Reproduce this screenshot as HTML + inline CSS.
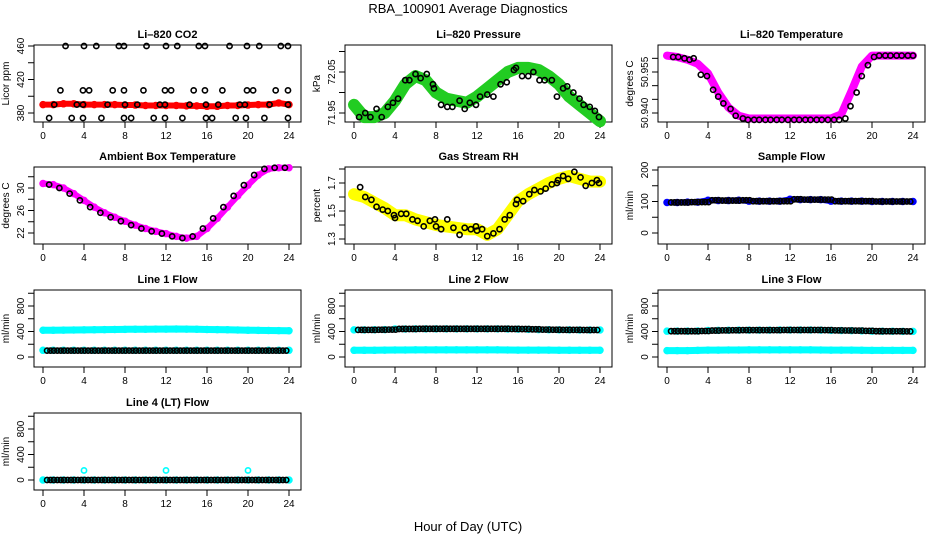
<!DOCTYPE html>
<html><head><meta charset="utf-8"><style>
body{margin:0;background:#fff}
svg text{font-family:"Liberation Sans",sans-serif}
</style></head><body>
<svg id="c" width="936" height="540" xmlns="http://www.w3.org/2000/svg">
<text x="468" y="13" text-anchor="middle" font-size="13">RBA_100901  Average Diagnostics</text>
<text x="468" y="531" text-anchor="middle" font-size="13">Hour of Day (UTC)</text>
</svg>
<script>
const hours=[0,1,2,3,4,5,6,7,8,9,10,11,12,13,14,15,16,17,18,19,20,21,22,23,24];
const xTicks=[0,4,8,12,16,20,24];
// CO2
const co2Red=[390,390,391,391,390,390,390,390,389.5,389.5,389,389,389,389,388.5,388.5,388,388,389,389,389.5,390,390,392,390];
const co2BlackH=[2.2,4,5.2,7.4,7.9,10.1,12,13.1,15.2,15.8,18.2,19.9,21.1,23.2,23.9,1.7,3.9,4.5,6.8,7.9,9.8,11.9,12.5,14.7,15.8,17.5,19.9,20.5,22.7,23.9,1.1,3.3,3.9,6.3,8,9.2,11.4,11.9,14.3,15.9,17.1,19.2,19.7,22.1,23.9,0.6,2.8,3.9,5.7,7.9,8.6,10.8,11.9,13.6,15.9,16.5,18.8,19.8,21.6,23.9];
const co2BlackV=[460,460,460,460,460,460,460,460,460,460,460,460,460,460,460,407,407,407,407,407,407,407,407,407,407,407,407,407,407,407,390,390,390,390,390,390,390,390,390,390,390,390,390,390,390,374,374,374,374,374,374,374,374,374,374,374,374,374,374,374];
// Pressure
const presGreen=[71.97,71.94,71.94,71.95,71.98,72.02,72.04,72.03,72.0,71.985,71.98,71.975,71.99,72.01,72.03,72.05,72.06,72.06,72.055,72.04,72.02,71.99,71.97,71.95,71.93];
const presBlackH=[0.5,1.1,1.6,2.2,2.7,3.3,3.8,4.3,5,5.4,6,6.5,7.1,7.7,7.8,8.5,9.1,9.6,10.3,10.8,11.3,11.9,12.3,13,13.6,14.3,14.9,15.6,15.8,16.4,17,17.5,18.1,18.6,19.3,19.8,20.4,20.8,21.4,22,22.4,23,23.5,23.9];
const presBlackV=[71.94,71.95,71.94,71.96,71.94,71.965,71.975,71.985,72.03,72.03,72.045,72.035,72.045,72.02,72.01,71.97,71.965,71.965,71.98,71.96,71.975,71.97,71.99,71.995,71.99,72.02,72.025,72.055,72.06,72.04,72.04,72.05,72.03,72.03,72.03,71.99,72.01,72.015,72.0,71.985,71.97,71.965,71.955,71.94];
// Li-820 temperature
const tempMag=[50.961,50.9605,50.9595,50.958,50.9545,50.9475,50.942,50.939,50.938,50.938,50.938,50.938,50.938,50.938,50.938,50.938,50.938,50.9395,50.948,50.957,50.961,50.961,50.961,50.961,50.961];
const tempBlackH=[0.6,1.1,1.7,2.2,2.6,3.3,3.9,4.5,5,5.5,6.2,6.7,7.4,7.9,8.5,9,9.6,10.1,10.7,11.2,11.8,12.4,12.9,13.5,14,14.6,15.1,15.7,16.3,16.8,17.4,17.9,18.5,19,19.6,20.2,20.7,21.3,21.8,22.4,22.9,23.5,24];
const tempBlackV=[50.9605,50.9605,50.96,50.9595,50.96,50.954,50.9535,50.9485,50.946,50.9435,50.9415,50.939,50.938,50.9375,50.9375,50.9375,50.9375,50.9375,50.9375,50.9375,50.9375,50.9375,50.9375,50.9375,50.9375,50.9375,50.9375,50.9375,50.9375,50.9375,50.938,50.9425,50.9475,50.9535,50.9575,50.9605,50.961,50.961,50.961,50.961,50.961,50.961,50.961];
// Ambient
const ambMag=[30.8,30.6,30.0,29.0,27.8,26.6,25.6,24.8,24.1,23.4,22.8,22.3,21.9,21.4,21.1,21.4,22.8,24.6,26.6,28.6,30.5,32.3,33.4,33.6,33.6];
// RH
const rhYellow=[1.62,1.60,1.56,1.52,1.47,1.47,1.44,1.42,1.40,1.39,1.38,1.37,1.37,1.33,1.37,1.47,1.57,1.62,1.66,1.70,1.73,1.75,1.73,1.71,1.71];
const rhBlackH=[0.6,1.1,1.7,2.2,2.8,3.3,3.9,4,4.6,5.1,5.7,6.2,6.8,7.4,7.9,8,8.5,9.1,9.7,10.3,10.8,11.4,11.9,12,12.5,13,13.6,14.2,14.7,15.2,15.8,15.9,16.5,17.1,17.6,18.2,18.7,19.3,19.8,19.9,20.4,20.9,21.5,22.1,22.6,23.2,23.7,23.9];
const rhBlackV=[1.67,1.6,1.58,1.53,1.51,1.5,1.47,1.45,1.48,1.48,1.44,1.43,1.39,1.43,1.44,1.39,1.37,1.44,1.38,1.33,1.38,1.37,1.39,1.36,1.37,1.32,1.34,1.37,1.44,1.47,1.55,1.58,1.57,1.62,1.65,1.64,1.66,1.69,1.7,1.72,1.75,1.73,1.78,1.74,1.68,1.7,1.72,1.7];
// Sample flow
const sampBlue=[97,97,98,98,104,103,103,104,101,101,101,101,107,106,106,106,101,101,101,101,100,100,100,100,100];
// Line flows
const l1Cyan=[420,420,422,424,426,428,430,432,434,436,436,438,438,440,438,436,432,430,428,424,420,418,416,414,412];
const l1Black=[100,100,100,100,100,100,100,100,100,100,100,100,100,100,100,100,100,100,100,100,100,100,100,100,100];
const l2Cyan=[105,105,105,108,110,110,112,112,112,112,112,112,112,112,112,110,108,108,108,108,106,106,106,106,106];
const l2Black=[425,425,428,430,440,440,442,442,442,442,442,442,442,442,442,440,438,434,430,428,425,425,424,424,424];
const l3Cyan=[100,100,100,104,108,108,110,110,112,112,112,112,112,112,112,110,108,108,108,106,104,104,104,104,104];
const l3Black=[405,405,405,408,415,418,420,422,422,422,422,424,424,424,424,422,418,416,414,410,405,404,404,402,402];
const l4Cyan=[0,0,0,0,0,0,0,0,0,0,0,0,0,0,0,0,0,0,0,0,0,0,0,0,0];
const l4Black=[0,0,0,0,0,0,0,0,0,0,0,0,0,0,0,0,0,0,0,0,0,0,0,0,0];
const l4OutH=[4,12,20];
const l4OutV=[150,150,150];

const NS="http://www.w3.org/2000/svg";
const svg=document.getElementById('c');
const colLeft=[34,345,658], rowTop=[45,167,290,413], W=267, H=77;
function el(tag,attrs,parent){const e=document.createElementNS(NS,tag);for(const k in attrs)e.setAttribute(k,attrs[k]);(parent||svg).appendChild(e);return e;}

function panel(name,col,row,title,ylab,v1,p1,v2,p2,ticks,labels,fmt){
  const L=colLeft[col],T=rowTop[row];
  const g=el('g',{});
  
  
  const xs=h=>L+9+h*(246/24);
  const ys=v=>T+p1+(v-v1)*(p2-p1)/(v2-v1);
  const t=el('text',{x:L+W/2,y:T-7,'text-anchor':'middle','font-size':11,'font-weight':'bold'},g);
  t.textContent=title;
  
  
  const box=el('rect',{x:L,y:T,width:W,height:H,fill:'none',stroke:'#000','stroke-width':1},g);
  
  
  const xa=el('g',{},g);
  
  
  xTicks.forEach(h=>{el('line',{x1:xs(h),x2:xs(h),y1:T+H,y2:T+H+6,stroke:'#000'},xa);
    const tx=el('text',{x:xs(h),y:T+H+17,'text-anchor':'middle','font-size':10},xa);tx.textContent=h;});
  const ya=el('g',{},g);
  
  
  ticks.forEach(v=>{const y=ys(v);if(y<T-4)return;el('line',{x1:L,x2:L-6,y1:y,y2:y,stroke:'#000'},ya);});
  labels.forEach(v=>{const y=ys(v);const tx=el('text',{x:0,y:0,'text-anchor':'middle','font-size':10,transform:`translate(${L-10},${y}) rotate(-90)`},ya);tx.textContent=fmt(v);});
  const yt=el('text',{x:0,y:0,'text-anchor':'middle','font-size':10,transform:`translate(${L-25},${T+H/2}) rotate(-90)`},g);
  yt.textContent=ylab;
  
  
  return {g,xs,ys};
}
function band(P,name,vals,color,width){
  const pts=hours.map((h,i)=>P.xs(h)+','+P.ys(vals[i])).join(' ');
  const pl=el('polyline',{points:pts,fill:'none',stroke:color,'stroke-width':width,'stroke-linejoin':'round','stroke-linecap':'round'},P.g);
  
  
  hours.forEach((h,i)=>{const c=el('circle',{cx:P.xs(h),cy:P.ys(vals[i]),r:3,fill:'none',stroke:color,'stroke-width':1.5},P.g);
    
    });
}
function dots(P,name,hs,vs,color){
  hs.forEach((h,i)=>{const c=el('circle',{cx:P.xs(h),cy:P.ys(vs[i]),r:2.6,fill:'none',stroke:color,'stroke-width':1.6},P.g);
    
    });
}
function stepDots(P,name,vals,color){
  hours.forEach((h,i)=>{if(h>=24)return;[0.4,0.73,1.06].forEach(d=>{const hh=h+d;if(hh>24)return;
    const c=el('circle',{cx:P.xs(hh),cy:P.ys(vals[i]),r:2.6,fill:'none',stroke:color,'stroke-width':1.6},P.g);
    
    });});
}
const f0=v=>String(v), f2=v=>v.toFixed(2), f1=v=>v.toFixed(1), f3=v=>v.toFixed(3);

let P=panel('co2',0,0,'Li–820 CO2','Licor ppm',380,68,460,1,[380,400,420,440,460],[380,420,460],f0);
band(P,'co2-red-series',co2Red,'#ff0000',6);
dots(P,'co2-black-point',co2BlackH,co2BlackV,'#000');

P=panel('pressure',1,0,'Li–820 Pressure','kPa',71.95,68,72.05,27,[71.95,72.0,72.05,72.1],[71.95,72.05],f2);
band(P,'pressure-green-series',presGreen,'#22cc22',12);
dots(P,'pressure-black-point',presBlackH,presBlackV,'#000');

P=panel('li820-temp',2,0,'Li–820 Temperature','degrees C',50.94,68,50.955,27,[50.94,50.945,50.95,50.955,50.96],[50.94,50.955],f3);
band(P,'temp-magenta-series',tempMag,'#ff00ff',8);
dots(P,'temp-black-point',tempBlackH,tempBlackV,'#000');

P=panel('ambient',0,1,'Ambient Box Temperature','degrees C',22,66,30,21,[22,24,26,28,30,32],[22,26,30],f0);
band(P,'ambient-magenta-series',ambMag,'#ff00ff',6);
dots(P,'ambient-black-point',hours.slice(1).map(h=>h-0.4),ambMag.slice(1),'#000');

P=panel('rh',1,1,'Gas Stream RH','percent',1.3,72,1.7,16,[1.3,1.4,1.5,1.6,1.7,1.8],[1.3,1.5,1.7],f1);
band(P,'rh-yellow-series',rhYellow,'#ffff00',12);
dots(P,'rh-black-point',rhBlackH,rhBlackV,'#000');

P=panel('sample-flow',2,1,'Sample Flow','ml/min',0,66,200,3,[0,50,100,150,200],[0,100,200],f0);
band(P,'sample-blue-series',sampBlue,'#0000ff',6);
stepDots(P,'sample-black-point',sampBlue,'#000');

const flowT=[0,200,400,600,800,1000],flowL=[0,400,800];
P=panel('line1',0,2,'Line 1 Flow','ml/min',0,67,800,16,flowT,flowL,f0);
band(P,'line1-cyan-series',l1Cyan,'#00ffff',7);
band(P,'line1-cyan-low',l1Black.map(v=>v+5),'#00ffff',5);
stepDots(P,'line1-black-point',l1Black,'#000');

P=panel('line2',1,2,'Line 2 Flow','ml/min',0,67,800,16,flowT,flowL,f0);
band(P,'line2-cyan-series',l2Cyan,'#00ffff',7);
band(P,'line2-cyan-high',l2Black,'#00ffff',5);
stepDots(P,'line2-black-point',l2Black,'#000');

P=panel('line3',2,2,'Line 3 Flow','ml/min',0,67,800,16,flowT,flowL,f0);
band(P,'line3-cyan-series',l3Cyan,'#00ffff',7);
band(P,'line3-cyan-high',l3Black,'#00ffff',5);
stepDots(P,'line3-black-point',l3Black,'#000');

P=panel('line4',0,3,'Line 4 (LT) Flow','ml/min',0,67,800,16,flowT,flowL,f0);
band(P,'line4-cyan-series',l4Cyan,'#00ffff',5);
stepDots(P,'line4-black-point',l4Black,'#000');
dots(P,'line4-cyan-outlier',l4OutH,l4OutV,'#00ffff');
</script>
</body></html>
